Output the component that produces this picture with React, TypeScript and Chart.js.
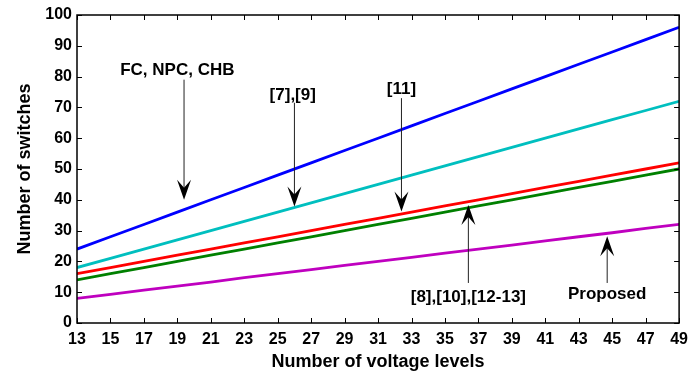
import React, { useEffect, useRef } from "react";
import { Chart, registerables } from "chart.js";

Chart.register(...registerables);

const levels = [13, 15, 17, 19, 21, 23, 25, 27, 29, 31, 33, 35, 37, 39, 41, 43, 45, 47, 49];
const fcNpcChb = [24, 28, 32, 36, 40, 44, 48, 52, 56, 60, 64, 68, 72, 76, 80, 84, 88, 92, 96];
const ref7_9 = [18, 21, 24, 27, 30, 33, 36, 39, 42, 45, 48, 51, 54, 57, 60, 63, 66, 69, 72];
const ref11 = [16, 18, 20, 22, 24, 26, 28, 30, 32, 34, 36, 38, 40, 42, 44, 46, 48, 50, 52];
const ref8_10_12_13 = [14, 16, 18, 20, 22, 24, 26, 28, 30, 32, 34, 36, 38, 40, 42, 44, 46, 48, 50];
const proposed = [8, 9.3, 10.7, 12, 13.3, 14.7, 16, 17.3, 18.7, 20, 21.3, 22.7, 24, 25.3, 26.7, 28, 29.3, 30.7, 32];

const xTicks = levels;
const yTicks = [0, 10, 20, 30, 40, 50, 60, 70, 80, 90, 100];

// annotation: label text, label position (tx,ty) and arrow from (ax,ay1) to tip (ax,ay2) in data units
const annotations = [
  { text: "FC, NPC, CHB", tx: 19.0, ty: 82, ax: 19.4, ay1: 79, ay2: 40 },
  { text: "[7],[9]", tx: 25.9, ty: 74, ax: 26.0, ay1: 71.5, ay2: 37.8 },
  { text: "[11]", tx: 32.4, ty: 76, ax: 32.4, ay1: 73, ay2: 36.2 },
  { text: "[8],[10],[12-13]", tx: 36.4, ty: 8.5, ax: 36.4, ay1: 13, ay2: 38.3 },
  { text: "Proposed", tx: 44.7, ty: 9.2, ax: 44.7, ay1: 13, ay2: 28.2 },
];

const FONT = "'Liberation Sans', Arial, sans-serif";

const framePlugin = {
  id: "frameTicks",
  afterDatasetsDraw(chart: any) {
    const { ctx, chartArea, scales } = chart;
    const { left, right, top, bottom } = chartArea;
    ctx.save();
    ctx.strokeStyle = "#000";
    ctx.lineWidth = 1;
    ctx.beginPath();
    const tl = 5;
    for (const v of xTicks) {
      const x = Math.round(scales.x.getPixelForValue(v)) + 0.5;
      ctx.moveTo(x, bottom);
      ctx.lineTo(x, bottom - tl);
      ctx.moveTo(x, top);
      ctx.lineTo(x, top + tl);
    }
    for (const v of yTicks) {
      const y = Math.round(scales.y.getPixelForValue(v)) + 0.5;
      ctx.moveTo(left, y);
      ctx.lineTo(left + tl, y);
      ctx.moveTo(right, y);
      ctx.lineTo(right - tl, y);
    }
    ctx.stroke();
    ctx.lineWidth = 1.5;
    ctx.strokeRect(left, top, right - left, bottom - top);

    // annotations
    ctx.font = `bold 17px ${FONT}`;
    ctx.fillStyle = "#000";
    ctx.textAlign = "center";
    ctx.textBaseline = "middle";
    for (const a of annotations) {
      const tx = scales.x.getPixelForValue(a.tx);
      const ty = scales.y.getPixelForValue(a.ty);
      ctx.fillText(a.text, tx, ty);
      const ax = scales.x.getPixelForValue(a.ax);
      const y1 = scales.y.getPixelForValue(a.ay1);
      const y2 = scales.y.getPixelForValue(a.ay2);
      const dir = y2 > y1 ? 1 : -1;
      const hl = 20;
      const hw = 7;
      ctx.strokeStyle = "#222";
      ctx.lineWidth = 1;
      ctx.beginPath();
      ctx.moveTo(ax, y1);
      ctx.lineTo(ax, y2 - dir * 10);
      ctx.stroke();
      ctx.beginPath();
      ctx.moveTo(ax, y2);
      ctx.lineTo(ax - hw, y2 - dir * hl);
      ctx.lineTo(ax, y2 - dir * (hl - 8));
      ctx.lineTo(ax + hw, y2 - dir * hl);
      ctx.closePath();
      ctx.fill();
    }
    ctx.restore();
  },
};

export default function App() {
  const ref = useRef<HTMLCanvasElement>(null);
  useEffect(() => {
    document.body.style.margin = "0";
    const mk = (label: string, data: number[], color: string) => ({
      label,
      data: levels.map((x, i) => ({ x, y: data[i] })),
      borderColor: color,
      backgroundColor: color,
      borderWidth: 2.8,
      pointRadius: 0,
      tension: 0,
    });
    const tickFont = { family: FONT, size: 16, weight: "bold" as const };
    const titleFont = { family: FONT, size: 18, weight: "bold" as const };
    const chart = new Chart(ref.current!, {
      type: "line",
      data: {
        datasets: [
          mk("FC, NPC, CHB", fcNpcChb, "#0000ff"),
          mk("[7],[9]", ref7_9, "#00bfbf"),
          mk("[11]", ref11, "#ff0000"),
          mk("[8],[10],[12-13]", ref8_10_12_13, "#008000"),
          mk("Proposed", proposed, "#bf00bf"),
        ],
      },
      options: {
        responsive: false,
        animation: false,
        events: [],
        layout: { padding: { left: 0, right: 10, top: 15, bottom: 0 } },
        plugins: { legend: { display: false }, tooltip: { enabled: false } },
        scales: {
          x: {
            type: "linear",
            min: 13,
            max: 49,
            afterBuildTicks: (s: any) => {
              s.ticks = xTicks.map((v) => ({ value: v }));
            },
            afterFit: (s: any) => {
              s.height = 50;
            },
            grid: { display: false, drawTicks: false },
            border: { display: false },
            ticks: { color: "#000", font: tickFont, padding: 7, maxRotation: 0, autoSkip: false },
            title: {
              display: true,
              text: "Number of voltage levels",
              color: "#000",
              font: titleFont,
              padding: { top: 0, bottom: 0 },
            },
          },
          y: {
            type: "linear",
            min: 0,
            max: 100,
            afterBuildTicks: (s: any) => {
              s.ticks = yTicks.map((v) => ({ value: v }));
            },
            afterFit: (s: any) => {
              s.width = 77;
            },
            grid: { display: false, drawTicks: false },
            border: { display: false },
            ticks: { color: "#000", font: tickFont, padding: 5 },
            title: {
              display: true,
              text: "Number of switches",
              color: "#000",
              font: titleFont,
              padding: { top: 14, bottom: 0 },
            },
          },
        },
      },
      plugins: [framePlugin],
    });
    return () => chart.destroy();
  }, []);
  return (
    <div style={{ position: "absolute", left: 0, top: 0, width: 695, height: 373, background: "#fff" }}>
      <canvas ref={ref} width={695} height={373} style={{ width: 695, height: 373, display: "block" }} />
    </div>
  );
}
